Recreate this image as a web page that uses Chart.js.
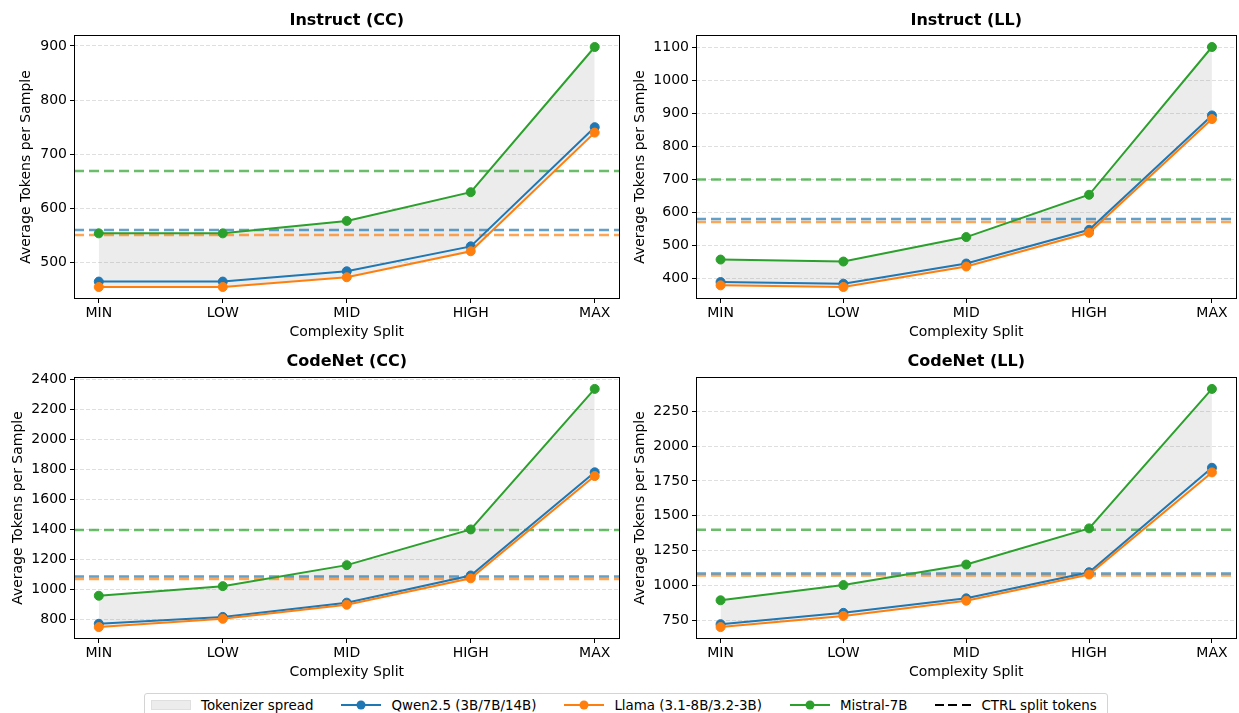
<!DOCTYPE html>
<html>
<head>
<meta charset="utf-8">
<script src="https://cdn.jsdelivr.net/npm/chart.js@4.4.1/dist/chart.umd.min.js"></script>
<style>
  body { margin: 0; background: #fff; width: 1239px; height: 713px; overflow: hidden; position: relative; font-family: "DejaVu Sans", sans-serif; }
  canvas { position: absolute; }
  #legend { position: absolute; left: 144px; top: 693px; width: 964px; height: 30px; border: 1px solid #d4d4d4; border-radius: 3px; box-sizing: border-box; display: flex; align-items: flex-start; padding: 3px 0 0 6px; font-size: 13.4px; color: #000; white-space: nowrap; }
  .item { display: flex; flex: none; align-items: center; margin-right: 28px; height: 16px; }
  .h { width: 40px; margin-right: 10px; position: relative; flex: none; }
  .patch { height: 10px; background: rgba(128,128,128,0.15); box-sizing: border-box; border: 1px solid rgba(128,128,128,0.12); }
  .line { height: 2px; background: var(--c); }
  .line i { position: absolute; left: 50%; top: 50%; width: 9px; height: 9px; border-radius: 50%; background: var(--c); transform: translate(-50%, -50%); }
  .dash { width: 36px; height: 2.5px; background: repeating-linear-gradient(90deg, #000 0 9px, transparent 9px 13.5px); }
</style>
</head>
<body>
<canvas id="c1" width="625" height="345" style="left:0;top:0"></canvas>
<canvas id="c2" width="620" height="345" style="left:622px;top:0"></canvas>
<canvas id="c3" width="625" height="340" style="left:0;top:345px"></canvas>
<canvas id="c4" width="620" height="340" style="left:622px;top:345px"></canvas>
<div id="legend">
  <div class="item"><span class="h patch"></span>Tokenizer spread</div>
  <div class="item"><span class="h line" style="--c:#1f77b4"><i></i></span>Qwen2.5 (3B/7B/14B)</div>
  <div class="item"><span class="h line" style="--c:#ff7f0e"><i></i></span>Llama (3.1-8B/3.2-3B)</div>
  <div class="item"><span class="h line" style="--c:#2ca02c"><i></i></span>Mistral-7B</div>
  <div class="item"><span class="h dash"></span>CTRL split tokens</div>
</div>
<script>
const splits = ["MIN", "LOW", "MID", "HIGH", "MAX"];

// Instruct (CC)
const instructCC_qwen = [465, 465, 484, 530, 750];
const instructCC_llama = [455, 455, 473, 521, 740];
const instructCC_mistral = [554, 554, 577, 630, 898];
const instructCC_ctrl = [560, 551, 669]; // qwen, llama, mistral
const instructCC_ticks = [500, 600, 700, 800, 900];

// Instruct (LL)
const instructLL_qwen = [390, 385, 446, 548, 894];
const instructLL_llama = [380, 375, 437, 539, 883];
const instructLL_mistral = [458, 452, 526, 654, 1101];
const instructLL_ctrl = [581, 572, 700];
const instructLL_ticks = [400, 500, 600, 700, 800, 900, 1000, 1100];

// CodeNet (CC)
const codenetCC_qwen = [771, 817, 912, 1093, 1781];
const codenetCC_llama = [749, 804, 898, 1074, 1756];
const codenetCC_mistral = [958, 1022, 1162, 1400, 2337];
const codenetCC_ctrl = [1086, 1070, 1396];
const codenetCC_ticks = [800, 1000, 1200, 1400, 1600, 1800, 2000, 2200, 2400];

// CodeNet (LL)
const codenetLL_qwen = [724, 805, 909, 1096, 1844];
const codenetLL_llama = [703, 783, 892, 1080, 1811];
const codenetLL_mistral = [895, 1004, 1151, 1410, 2409];
const codenetLL_ctrl = [1087, 1073, 1400];
const codenetLL_ticks = [750, 1000, 1250, 1500, 1750, 2000, 2250];

const FONT = "DejaVu Sans";
const BLUE = "#1f77b4", ORANGE = "#ff7f0e", GREEN = "#2ca02c";

// matplotlib-like box around the axes
const framePlugin = {
  id: "frame",
  afterDraw(chart) {
    const { ctx, chartArea: a } = chart;
    ctx.save();
    ctx.strokeStyle = "#000";
    ctx.lineWidth = 1;
    ctx.strokeRect(Math.round(a.left) + 0.5, Math.round(a.top) + 0.5, Math.round(a.right - a.left) - 1, Math.round(a.bottom - a.top) - 1);
    ctx.restore();
  }
};

function drawPanel(id, title, qwen, llama, mistral, ctrl, ticks, lay) {
  const pts = arr => arr.map((v, i) => ({ x: i, y: v }));
  const hline = v => [{ x: -0.2, y: v }, { x: 4.2, y: v }];
  const hi = splits.map((_, i) => Math.max(qwen[i], llama[i], mistral[i]));
  const lo = splits.map((_, i) => Math.min(qwen[i], llama[i], mistral[i]));
  const all = qwen.concat(llama, mistral);
  const yMin = Math.min(...all), yMax = Math.max(...all);
  const margin = (yMax - yMin) * 0.05;

  const series = (data, color, order) => ({
    data: pts(data), borderColor: color, backgroundColor: color, borderWidth: 2,
    pointRadius: 4.5, pointBorderWidth: 1, pointBorderColor: color, pointBackgroundColor: color,
    tension: 0, fill: false, order: order
  });
  const ref = (v, color) => ({
    data: hline(v), borderColor: color, borderWidth: 2.5, borderDash: [10, 5],
    pointRadius: 0, fill: false, order: 5
  });

  new Chart(document.getElementById(id), {
    type: "line",
    data: {
      datasets: [
        { data: pts(hi), borderColor: "transparent", pointRadius: 0, fill: "+1", backgroundColor: "rgba(128,128,128,0.15)", order: 10 },
        { data: pts(lo), borderColor: "transparent", pointRadius: 0, fill: false, order: 10 },
        ref(ctrl[0], "rgba(31,119,180,0.7)"),
        ref(ctrl[1], "rgba(255,127,14,0.7)"),
        ref(ctrl[2], "rgba(44,160,44,0.7)"),
        series(qwen, BLUE, 3),
        series(llama, ORANGE, 2),
        series(mistral, GREEN, 1)
      ]
    },
    options: {
      responsive: false,
      animation: false,
      layout: { padding: { top: 0, right: lay.padRight, left: 0, bottom: 0 } },
      plugins: {
        legend: { display: false },
        tooltip: { enabled: false },
        title: {
          display: true, text: title, color: "#000", fullSize: false,
          font: { family: FONT, size: 16, weight: "bold" },
          padding: { top: lay.titleTop, bottom: lay.titleBottom }
        }
      },
      scales: {
        x: {
          type: "linear", min: -0.2, max: 4.2,
          afterBuildTicks: s => { s.ticks = splits.map((_, i) => ({ value: i })); },
          afterFit: s => { s.height = 46; },
          ticks: { callback: v => splits[v], color: "#000", font: { family: FONT, size: 14 }, padding: 2, maxRotation: 0, autoSkip: false },
          grid: { drawOnChartArea: false, drawTicks: true, tickLength: 4, color: "#000", tickColor: "#000" },
          border: { display: false },
          title: { display: true, text: "Complexity Split", color: "#000", font: { family: FONT, size: 14 }, padding: { top: 0, bottom: 4 } }
        },
        y: {
          min: yMin - margin, max: yMax + margin,
          afterBuildTicks: s => { s.ticks = ticks.map(v => ({ value: v })); },
          afterFit: s => { s.width = 74; },
          ticks: { callback: v => String(v), color: "#000", font: { family: FONT, size: 14 }, padding: 3 },
          grid: { color: "rgba(176,176,176,0.4)", lineWidth: 1, tickLength: 4, tickColor: "#000" },
          border: { display: false, dash: [4, 2] },
          title: { display: true, text: "Average Tokens per Sample", color: "#000", font: { family: FONT, size: 14 }, padding: { top: lay.yTitlePad, bottom: 0 } }
        }
      }
    },
    plugins: [framePlugin]
  });
}

drawPanel("c1", "Instruct (CC)", instructCC_qwen, instructCC_llama, instructCC_mistral, instructCC_ctrl, instructCC_ticks,
  { padRight: 5, titleTop: 11, titleBottom: 4.8, yTitlePad: 17.6 });
drawPanel("c2", "Instruct (LL)", instructLL_qwen, instructLL_llama, instructLL_mistral, instructLL_ctrl, instructLL_ticks,
  { padRight: 0, titleTop: 11, titleBottom: 4.8, yTitlePad: 9.6 });
drawPanel("c3", "CodeNet (CC)", codenetCC_qwen, codenetCC_llama, codenetCC_mistral, codenetCC_ctrl, codenetCC_ticks,
  { padRight: 5, titleTop: 7.4, titleBottom: 5.4, yTitlePad: 9.6 });
drawPanel("c4", "CodeNet (LL)", codenetLL_qwen, codenetLL_llama, codenetLL_mistral, codenetLL_ctrl, codenetLL_ticks,
  { padRight: 0, titleTop: 7.4, titleBottom: 5.4, yTitlePad: 9.6 });
</script>
</body>
</html>
